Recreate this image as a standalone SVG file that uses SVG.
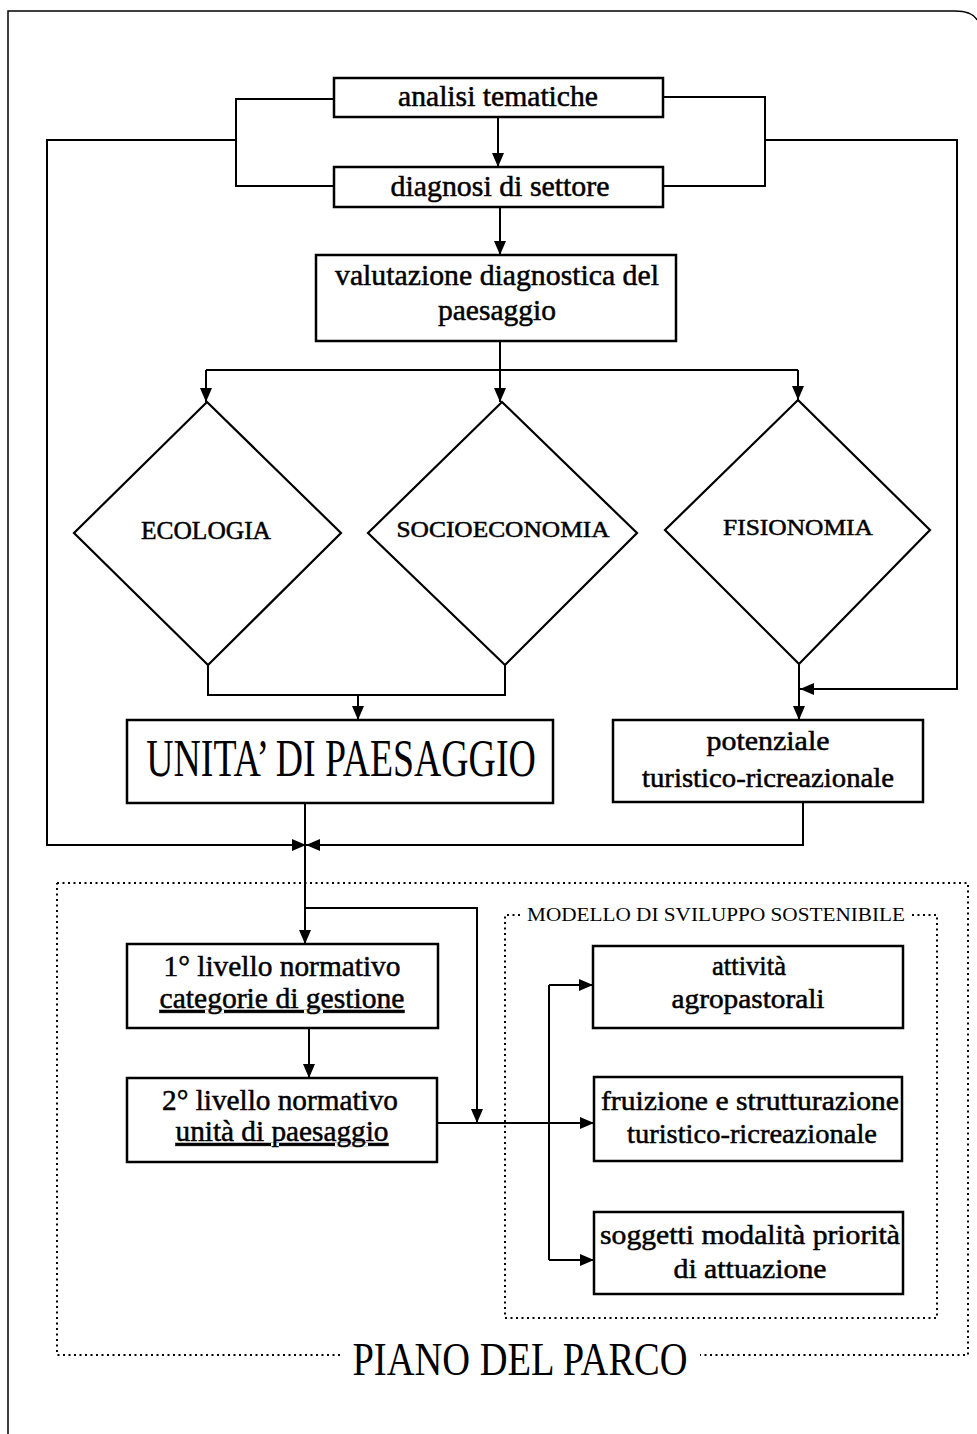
<svg xmlns="http://www.w3.org/2000/svg" width="977" height="1434" viewBox="0 0 977 1434">
<defs>
<marker id="arr" markerUnits="userSpaceOnUse" markerWidth="15" markerHeight="13" refX="14" refY="6" orient="auto">
<path d="M0,0 L14,6 L0,12 z" fill="#000"/>
</marker>
<style>
.box{fill:#fff;stroke:#000;stroke-width:2.5}
.dia{fill:#fff;stroke:#000;stroke-width:2.2}
.ln{fill:none;stroke:#000;stroke-width:2}
.ar{fill:none;stroke:#000;stroke-width:2;marker-end:url(#arr)}
.dot{fill:none;stroke:#000;stroke-width:2;stroke-dasharray:2 3.5}
.t{font-family:"Liberation Serif","Times New Roman",serif;text-anchor:middle;fill:#000;stroke:#000;stroke-width:0.5}
.lt{font-family:"Liberation Serif","Times New Roman",serif;text-anchor:middle;fill:#000}
</style>
</defs>
<rect width="977" height="1434" fill="#fff"/>
<path d="M8,1434 V11 H955 Q972,11 977,20" fill="none" stroke="#000" stroke-width="1.5"/>

<g id="connectors">
<path class="ar" d="M498,117 V167"/>
<path class="ln" d="M334,99 H236 V186 H334"/>
<path class="ln" d="M663,97 H765 V186 H663"/>
<path class="ar" d="M236,140 H47 V845 H306"/>
<path class="ar" d="M765,140 H957 V689 H800"/>
<path class="ar" d="M500,207 V255"/>
<path class="ln" d="M500,340 V370 M206,370 H798"/>
<path class="ar" d="M206,370 V402"/>
<path class="ar" d="M500,370 V402"/>
<path class="ar" d="M798,370 V400"/>
<path class="ln" d="M208,665 V695 H505 V665"/>
<path class="ar" d="M358,695 V720"/>
<path class="ar" d="M799,664 V720"/>
<path class="ar" d="M305,803 V944"/>
<path class="ar" d="M803,802 V845 H306"/>
<path class="ar" d="M305,908 H477 V1123"/>
<path class="ar" d="M309,1028 V1078"/>
<path class="ar" d="M437,1123 H594"/>
<path class="ln" d="M549,985 V1260"/>
<path class="ar" d="M549,985 H593"/>
<path class="ar" d="M549,1260 H594"/>
</g>

<g id="piano">
<path class="dot" d="M57,883 H968 V1355 H700 M340,1355 H57 V883"/>
<text class="lt" transform="translate(520,1375) scale(0.837,1)" x="0" y="0" font-size="46">PIANO DEL PARCO</text>
</g>
<g id="modello">
<path class="dot" d="M520,915 H505 V1318 H937 V915 H912"/>
<text class="lt" x="716" y="921" font-size="19" textLength="378" lengthAdjust="spacingAndGlyphs">MODELLO DI SVILUPPO SOSTENIBILE</text>
</g>

<g id="analisi">
<rect class="box" x="334" y="78" width="329" height="39"/>
<text class="t" x="498" y="106" font-size="29" textLength="200" lengthAdjust="spacingAndGlyphs">analisi tematiche</text>
</g>
<g id="diagnosi">
<rect class="box" x="334" y="167" width="329" height="40"/>
<text class="t" x="500" y="196" font-size="29" textLength="219" lengthAdjust="spacingAndGlyphs">diagnosi di settore</text>
</g>
<g id="valutazione">
<rect class="box" x="316" y="255" width="360" height="86"/>
<text class="t" x="497" y="285" font-size="29" textLength="324" lengthAdjust="spacingAndGlyphs">valutazione diagnostica del</text>
<text class="t" x="497" y="320" font-size="29" textLength="118" lengthAdjust="spacingAndGlyphs">paesaggio</text>
</g>
<g id="ecologia">
<polygon class="dia" points="207,402 341,533 208,665 74,533"/>
<text class="t" x="206" y="539" font-size="25" textLength="130" lengthAdjust="spacingAndGlyphs">ECOLOGIA</text>
</g>
<g id="socioeconomia">
<polygon class="dia" points="502,402 637,533 505,665 368,533"/>
<text class="t" x="503" y="537" font-size="23" textLength="213" lengthAdjust="spacingAndGlyphs">SOCIOECONOMIA</text>
</g>
<g id="fisionomia">
<polygon class="dia" points="798,400 930,530 799,664 665,530"/>
<text class="t" x="798" y="535" font-size="24" textLength="150" lengthAdjust="spacingAndGlyphs">FISIONOMIA</text>
</g>
<g id="unita">
<rect class="box" x="127" y="720" width="426" height="83"/>
<text class="lt" transform="translate(341,776) scale(0.727,1)" x="0" y="0" font-size="52">UNITA’ DI PAESAGGIO</text>
</g>
<g id="potenziale">
<rect class="box" x="613" y="720" width="310" height="82"/>
<text class="t" x="768" y="750" font-size="27" textLength="123" lengthAdjust="spacingAndGlyphs">potenziale</text>
<text class="t" x="768" y="787" font-size="27" textLength="252" lengthAdjust="spacingAndGlyphs">turistico-ricreazionale</text>
</g>
<g id="livello1">
<rect class="box" x="127" y="944" width="311" height="84"/>
<text class="t" x="282" y="976" font-size="29" textLength="237" lengthAdjust="spacingAndGlyphs">1° livello normativo</text>
<text class="t" x="282" y="1008" font-size="29" textLength="245" lengthAdjust="spacingAndGlyphs" text-decoration="underline">categorie di gestione</text>
</g>
<g id="livello2">
<rect class="box" x="127" y="1078" width="310" height="84"/>
<text class="t" x="280" y="1110" font-size="29" textLength="236" lengthAdjust="spacingAndGlyphs">2° livello normativo</text>
<text class="t" x="282" y="1141" font-size="29" textLength="213" lengthAdjust="spacingAndGlyphs" text-decoration="underline">unità di paesaggio</text>
</g>
<g id="attivita">
<rect class="box" x="593" y="946" width="310" height="82"/>
<text class="t" x="749" y="975" font-size="27" textLength="74" lengthAdjust="spacingAndGlyphs">attività</text>
<text class="t" x="748" y="1008" font-size="27" textLength="153" lengthAdjust="spacingAndGlyphs">agropastorali</text>
</g>
<g id="fruizione">
<rect class="box" x="594" y="1077" width="308" height="84"/>
<text class="t" x="750" y="1110" font-size="28" textLength="298" lengthAdjust="spacingAndGlyphs">fruizione e strutturazione</text>
<text class="t" x="752" y="1143" font-size="28" textLength="250" lengthAdjust="spacingAndGlyphs">turistico-ricreazionale</text>
</g>
<g id="soggetti">
<rect class="box" x="594" y="1212" width="309" height="82"/>
<text class="t" x="750" y="1244" font-size="28" textLength="300" lengthAdjust="spacingAndGlyphs">soggetti modalità priorità</text>
<text class="t" x="750" y="1278" font-size="28" textLength="153" lengthAdjust="spacingAndGlyphs">di attuazione</text>
</g>
</svg>
